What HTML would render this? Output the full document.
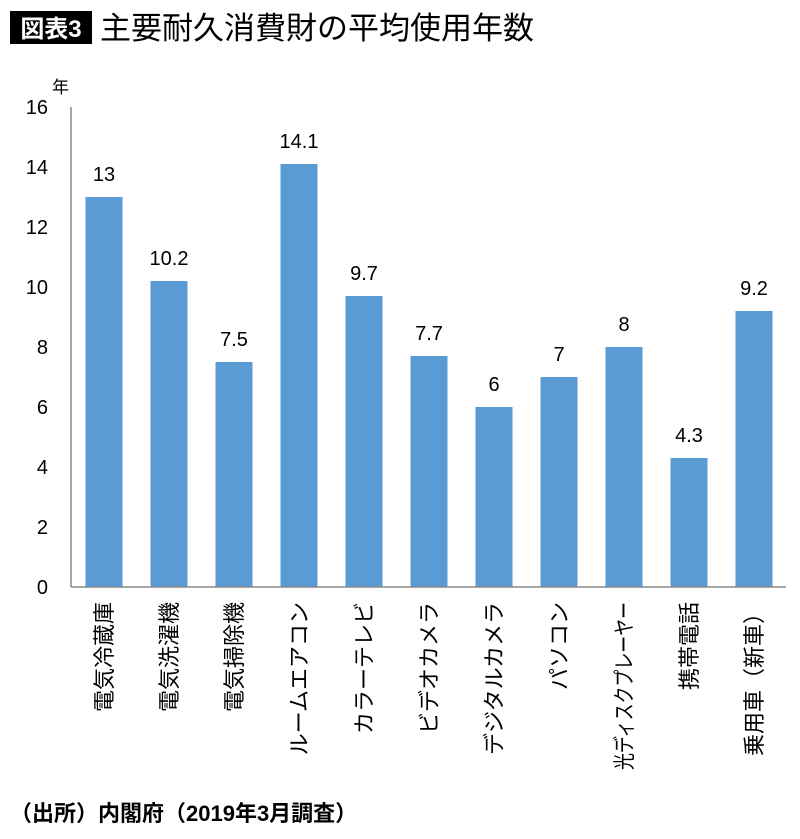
<!DOCTYPE html>
<html><head><meta charset="utf-8"><style>
body{margin:0;background:#fff;width:800px;height:834px;overflow:hidden;font-family:"Liberation Sans","Noto Sans CJK JP",sans-serif}
</style></head><body>
<svg width="800" height="834" xmlns="http://www.w3.org/2000/svg" font-family="Liberation Sans, Noto Sans CJK JP, sans-serif">
<rect x="10" y="11" width="82" height="33" fill="#000"/>
<text x="51" y="37" font-size="24" font-weight="bold" fill="#fff" text-anchor="middle">図表3</text>
<text x="100" y="39" font-size="31" fill="#000">主要耐久消費財の平均使用年数</text>
<text x="52" y="93" font-size="17" fill="#000">年</text>
<g id="yaxis"></g>
<g id="bars"></g>
<g id="xlabels"></g>
<line x1="71" y1="107" x2="71" y2="587" stroke="#888" stroke-width="1.5"/>
<line x1="71" y1="587" x2="786" y2="587" stroke="#888" stroke-width="1.5"/>
<text x="10" y="821" font-size="22" font-weight="bold" fill="#000">（出所）内閣府（2019年3月調査）</text>
</svg>
<script>
const categories=["電気冷蔵庫","電気洗濯機","電気掃除機","ルームエアコン","カラーテレビ","ビデオカメラ","デジタルカメラ","パソコン","光ディスクプレーヤー","携帯電話","乗用車（新車）"];
const values=[13,10.2,7.5,14.1,9.7,7.7,6,7,8,4.3,9.2];
const valueLabels=["13","10.2","7.5","14.1","9.7","7.7","6","7","8","4.3","9.2"];
const yTicks=[0,2,4,6,8,10,12,14,16];
const NS="http://www.w3.org/2000/svg";
const y0=587,pxPer=30,xStart=71,step=65,barW=37;
const yScale=v=>y0-v*pxPer;
const xCenter=i=>xStart+33+i*step;
const ya=document.getElementById('yaxis'),bg=document.getElementById('bars'),xl=document.getElementById('xlabels');
yTicks.forEach(t=>{
const el=document.createElementNS(NS,'text');
el.setAttribute('x',48);el.setAttribute('y',yScale(t)+7);el.setAttribute('font-size',20);el.setAttribute('text-anchor','end');


el.textContent=t;ya.appendChild(el);
});
values.forEach((v,i)=>{
const r=document.createElementNS(NS,'rect');
r.setAttribute('x',xCenter(i)-barW/2);r.setAttribute('y',yScale(v));r.setAttribute('width',barW);r.setAttribute('height',v*pxPer);r.setAttribute('fill','#5b9bd5');


bg.appendChild(r);
const t=document.createElementNS(NS,'text');
t.setAttribute('x',xCenter(i));t.setAttribute('y',yScale(v)-16);t.setAttribute('font-size',20);t.setAttribute('text-anchor','middle');


t.textContent=valueLabels[i];bg.appendChild(t);
const l=document.createElementNS(NS,'text');
l.setAttribute('transform','translate('+(xCenter(i)+8)+',602) rotate(-90)');l.setAttribute('font-size',22);l.setAttribute('text-anchor','end');
if(categories[i].length>8){l.setAttribute('textLength',168);l.setAttribute('lengthAdjust','spacingAndGlyphs');}


l.textContent=categories[i];xl.appendChild(l);
});
</script>
</body></html>
